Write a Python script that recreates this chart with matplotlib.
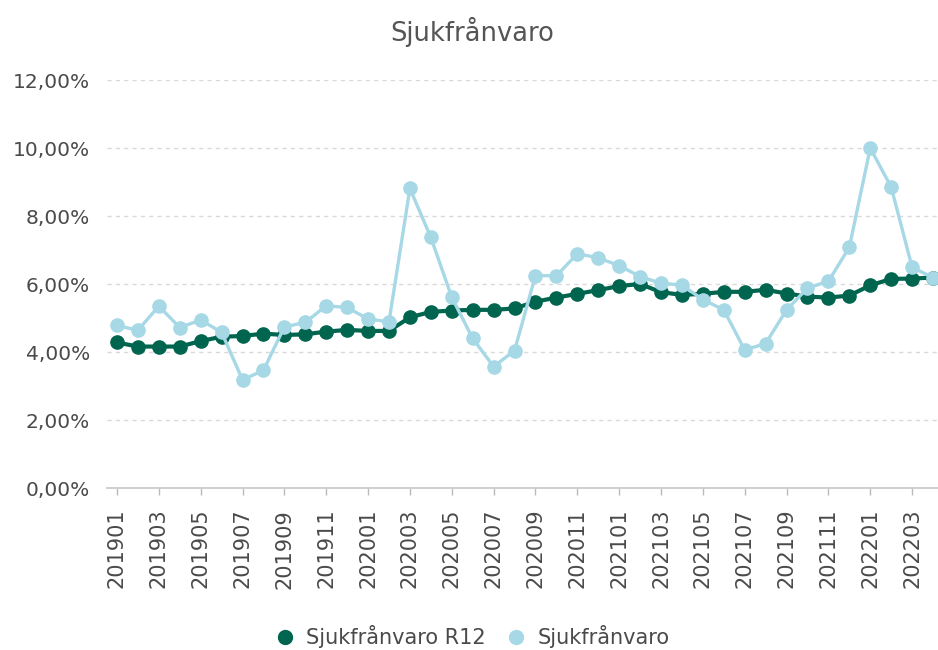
import numpy as np
import matplotlib
matplotlib.use("Agg")
import matplotlib.pyplot as plt
from matplotlib.lines import Line2D
from matplotlib.ticker import FuncFormatter

months = [f"{y}{m:02d}" for y in (2019, 2020, 2021, 2022) for m in range(1, 13)][:40]

r12 = [4.28, 4.16, 4.16, 4.16, 4.32, 4.45, 4.47, 4.54, 4.50, 4.52,
       4.60, 4.65, 4.62, 4.62, 5.02, 5.18, 5.22, 5.24, 5.24, 5.28,
       5.48, 5.60, 5.71, 5.82, 5.94, 6.00, 5.76, 5.68, 5.71, 5.77,
       5.77, 5.83, 5.72, 5.63, 5.60, 5.66, 5.96, 6.15, 6.16, 6.19]

sjuk = [4.78, 4.64, 5.35, 4.72, 4.94, 4.58, 3.18, 3.46, 4.74, 4.87,
        5.36, 5.31, 4.97, 4.89, 8.81, 7.37, 5.61, 4.40, 3.57, 4.04,
        6.25, 6.24, 6.89, 6.77, 6.54, 6.22, 6.02, 5.97, 5.54, 5.24,
        4.06, 4.25, 5.24, 5.88, 6.08, 7.08, 10.00, 8.85, 6.49, 6.19]

dark = "#00654F"
light = "#A6D8E6"
txt = "#4a4a4a"

plt.rcParams['font.family'] = ['DejaVu Sans']

fig = plt.figure(figsize=(9.38, 6.5), dpi=100)
ax = fig.add_axes([106.5 / 938, 162 / 650, 837 / 938, 408 / 650])

x = np.arange(len(months))
ax.plot(x, r12, color=dark, lw=3.0, marker="o", ms=9.5, zorder=3,
        label="Sjukfrånvaro R12")
ax.plot(x, sjuk, color=light, lw=2.4, marker="o", ms=9.5, zorder=4,
        label="Sjukfrånvaro")

ax.set_xlim(-0.5, len(months) - 0.5)
ax.set_ylim(0, 12)
ax.set_yticks(np.arange(0, 13, 2))
ax.yaxis.set_major_formatter(FuncFormatter(lambda v, p: f"{v:.2f}%".replace(".", ",")))
ax.set_xticks(x[::2])
ax.set_xticklabels(months[::2], rotation=90)

for s in ["top", "right", "left"]:
    ax.spines[s].set_visible(False)
ax.spines["bottom"].set_color("#cccccc")
ax.spines["bottom"].set_linewidth(1.3)

ax.yaxis.grid(True, color="#d9d9d9", lw=1, linestyle=(0, (3, 3)))
ax.set_axisbelow(True)
ax.tick_params(axis="y", length=0, pad=12, labelsize=14.5, labelcolor=txt)
ax.tick_params(axis="x", length=5, width=1, color="#bbbbbb", pad=10,
               labelsize=15, labelcolor=txt)

fig.text(0.503, 1 - 32 / 650, "Sjukfrånvaro", ha="center", va="center",
         fontsize=18.5, color="#555555")

handles = [Line2D([], [], color=dark, marker="o", ls="none", ms=10),
           Line2D([], [], color=light, marker="o", ls="none", ms=10)]
fig.legend(handles, ["Sjukfrånvaro R12", "Sjukfrånvaro"], loc="center",
           bbox_to_anchor=(0.503, 1 - 637 / 650), ncol=2, frameon=False,
           fontsize=15, handletextpad=0.5, columnspacing=1.0,
           labelcolor=txt, handlelength=1.0)

fig.savefig("out.png", dpi=100)
